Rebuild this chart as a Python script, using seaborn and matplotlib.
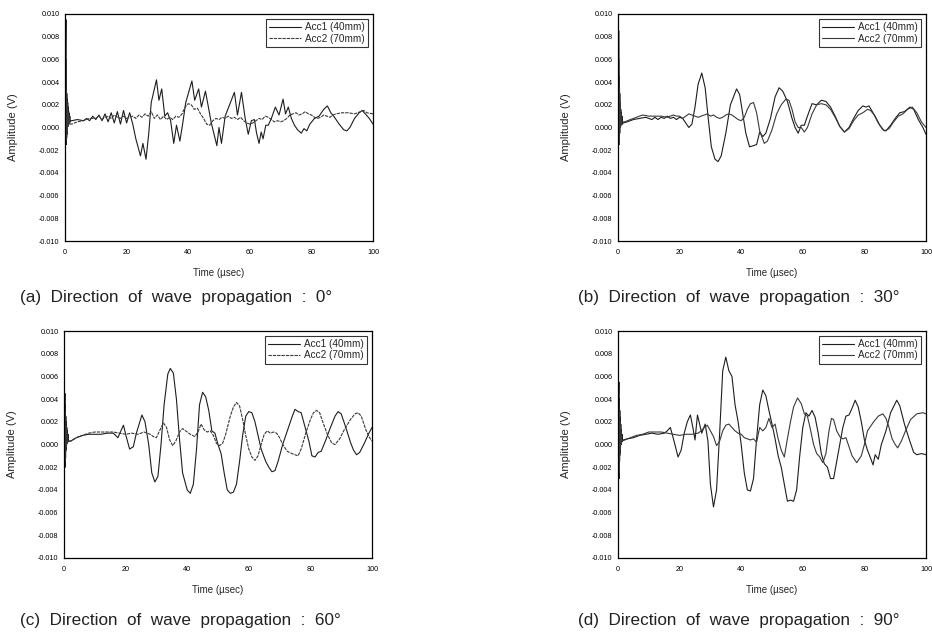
import matplotlib
matplotlib.use("Agg")
import matplotlib.pyplot as plt
import numpy as np
import pandas as pd
import seaborn as sns
from matplotlib.ticker import MultipleLocator, FormatStrFormatter
from matplotlib.lines import Line2D

# ---------------- data ----------------
labels = ["Acc1 (40mm)", "Acc2 (70mm)"]
captions = ["(a)  Direction  of  wave  propagation  :  0°",
            "(b)  Direction  of  wave  propagation  :  30°",
            "(c)  Direction  of  wave  propagation  :  60°",
            "(d)  Direction  of  wave  propagation  :  90°"]

# panel (a) 0 deg
t_a1 = [0, 0.3, 0.37, 0.44, 0.51, 0.58, 0.65, 0.72, 0.8, 0.88, 0.96, 1.04, 1.12, 1.2, 1.28, 1.36, 1.45, 1.55, 1.7, 1.85, 2.2,
        4, 6, 7, 8, 9, 10, 11, 12, 13, 14, 15, 16, 17, 18, 19, 20, 21, 22,
        23, 24.5, 25.3, 26.3, 27.2, 28, 29.7, 30.5, 31.4, 32.4, 33.3, 34.3, 35.3, 36.2, 37.3, 38.3, 39.2, 41.2, 42.1, 43.4, 44.3,
        45.6, 47.5, 49.3, 50.0, 50.8, 52.0, 53.0, 55.0, 56.0, 57.3, 58.5, 59.5, 60.5, 61.5, 62.2, 63.0, 63.7, 64.3, 65.2, 66.0,
        67.0, 68.3, 69.5, 70.8, 71.6, 72.5, 73.5, 74.5, 75.5, 76.7, 77.6, 78.5, 79.5, 81.0, 82.5, 84.0, 85.2, 86.3, 87.5, 89.0,
        90.5, 91.5, 92.5, 94.0, 95.5, 96.5, 97.5, 98.8, 100]
v_a1 = [0, 0.0095, -0.0015, 0.0060, -0.0010, 0.0030, -0.0006, 0.0025, 0.0000, 0.0022, 0.0001, 0.0018, 0.0003, 0.0014,
        0.0004, 0.0012, 0.0005, 0.0010, 0.0005, 0.0006, 0.0006,
        0.0007, 0.0006, 0.0008,
        0.0006, 0.0010, 0.0007, 0.0011, 0.0006, 0.0012, 0.0005, 0.0013, 0.0004, 0.0014, 0.0003, 0.0015, 0.0004, 0.0013, 0.0003,
        -0.0010, -0.0025, -0.0014, -0.0028, -0.0005, 0.0022, 0.0042, 0.0024, 0.0034, 0.0010, 0.0013, 0.0006, -0.0014, 0.0002,
        -0.0012, 0.0005, 0.0022, 0.0041, 0.0024, 0.0034, 0.0018, 0.0032, 0.0004, -0.0016, 0.0000, -0.0014, 0.0010, 0.0017,
        0.0031, 0.0011, 0.0031, 0.0008, -0.0006, 0.0006, 0.0007, -0.0005, -0.0014, -0.0004, -0.0010, 0.0002, 0.0002,
        0.0008, 0.0018, 0.0011, 0.0025, 0.0012, 0.0018, 0.0008, 0.0002, -0.0002, -0.0005, -0.0001, -0.0003, 0.0003, 0.0008,
        0.0010, 0.0016, 0.0019, 0.0013, 0.0009, 0.0003, -0.0002, -0.0003, 0.0000, 0.0008, 0.0013, 0.0015, 0.0012, 0.0008, 0.0003]
t_a2 = [0, 0.32, 0.4, 0.48, 0.56, 0.64, 0.72, 0.8, 0.9, 1.0, 1.1, 1.2, 1.3, 1.45, 1.7, 2.2, 4, 6, 8, 10, 11, 12, 13, 14, 15,
        16, 17, 18, 19, 20, 22, 23, 24, 25,
        26, 27, 28, 29, 30, 31, 32, 33, 34, 35, 36, 37, 38, 39, 40, 41, 42, 43, 44, 45, 46, 47, 48, 49, 50, 51, 52, 53, 54,
        55, 56, 57, 58, 59, 60, 61, 62, 63, 64, 65, 66, 67, 68, 69, 70, 71, 72, 73, 74, 75, 76, 77, 78, 79, 80, 81, 82, 83,
        84, 85, 86, 87, 88, 90, 92, 94, 96, 97, 98, 100]
v_a2 = [0, 0.0060, -0.0012, 0.0035, -0.0008, 0.0022, -0.0003, 0.0018, 0.0001, 0.0014, 0.0002, 0.0011, 0.0003, 0.0008,
        0.0003, 0.0003, 0.0005, 0.0006, 0.0008, 0.0008, 0.0010,
        0.0007, 0.0009, 0.0010, 0.0008, 0.0011, 0.0009, 0.0008, 0.0010, 0.0008, 0.0010, 0.0008, 0.0011, 0.0009, 0.0012,
        0.0010, 0.0014, 0.0008, 0.0011, 0.0007, 0.0010, 0.0007, 0.0009, 0.0007, 0.0010, 0.0009, 0.0012, 0.0018, 0.0021,
        0.0020, 0.0016, 0.0017, 0.0012, 0.0008, 0.0003, 0.0002, 0.0006, 0.0008, 0.0007, 0.0009, 0.0008, 0.0010, 0.0008,
        0.0009, 0.0007, 0.0009, 0.0006, 0.0004, 0.0003, 0.0004, 0.0006, 0.0008, 0.0007, 0.0010, 0.0009, 0.0007, 0.0005,
        0.0006, 0.0005, 0.0006, 0.0008, 0.0011, 0.0012, 0.0013, 0.0011, 0.0012, 0.0014, 0.0012, 0.0011, 0.0009, 0.0008,
        0.0009, 0.0011, 0.0010, 0.0009, 0.0011, 0.0012, 0.0013, 0.0013, 0.0012, 0.0014, 0.0015, 0.0013, 0.0012]

# panel (b) 30 deg
t_b1 = [0, 0.3, 0.37, 0.44, 0.51, 0.58, 0.65, 0.73, 0.81, 0.9, 1.0, 1.1, 1.2, 1.3, 1.45, 1.7, 3, 5, 7, 9, 10, 11, 12, 13, 14,
        15, 16, 17, 18, 19, 20, 21, 22, 23,
        24, 25, 26, 27.2, 28.3, 29.3, 30.3, 31.5, 32.5, 33.5, 35, 36.5, 38.5, 39.5, 40.5, 41.5, 42.7, 44, 45, 46, 47, 48, 49.5,
        51, 52.3, 53.5, 55, 56.5, 57.5, 58.5, 59.5, 60.5, 61.5, 63, 64.5, 66, 67.5, 69, 70.5, 72, 73.5, 75, 76.5, 78, 79.5,
        80.5, 81.5, 83, 84.5, 86, 87, 88.5, 90, 91.5, 93, 94.8, 96, 97.5, 99, 100]
v_b1 = [0, 0.0085, -0.0010, 0.0045, -0.0005, 0.0030, 0.0000, 0.0022, 0.0001, 0.0016, 0.0002, 0.0013, 0.0003, 0.0010,
        0.0003, 0.0004, 0.0005, 0.0007, 0.0008, 0.0009, 0.0008,
        0.0007, 0.0009, 0.0007, 0.0009, 0.0008, 0.0010, 0.0008, 0.0009, 0.0007, 0.0009, 0.0008, 0.0004, 0.0000, 0.0003,
        0.0018, 0.0038, 0.0048, 0.0035, 0.0008, -0.0017, -0.0028, -0.0030, -0.0025, -0.0005, 0.0020, 0.0034, 0.0029,
        0.0012, -0.0005, -0.0017, -0.0016, -0.0015, -0.0004, -0.0008, -0.0005, 0.0008, 0.0027, 0.0035, 0.0032, 0.0023,
        0.0008, 0.0000, -0.0005, 0.0002, 0.0002, 0.0010, 0.0021, 0.0020, 0.0024, 0.0023, 0.0018, 0.0010, 0.0001, -0.0004,
        0.0000, 0.0008, 0.0015, 0.0019, 0.0018, 0.0019, 0.0012, 0.0004, -0.0002, -0.0003, 0.0002, 0.0008, 0.0013, 0.0014,
        0.0018, 0.0016, 0.0007, 0.0000, -0.0006]
t_b2 = [0, 0.32, 0.4, 0.48, 0.56, 0.64, 0.72, 0.8, 0.9, 1.0, 1.12, 1.3, 2.2, 4, 6, 8, 10, 12, 14, 16, 18, 19, 20, 21, 22,
        23, 24, 25, 26, 27, 28, 29, 30,
        31, 32, 33, 34, 35, 36, 37, 38, 39, 40, 41, 42, 43, 44, 45, 46, 47.5, 48.5, 50, 51.5, 53, 54.5, 55.5, 56.5, 57.5,
        58.5, 59.5, 60.5, 61.5, 63, 64.5, 66, 67.5, 69, 70.5, 72, 73.5, 75, 76.5, 78, 79.5, 81, 82, 83.5, 85, 86.5, 88, 89.5,
        91, 92.5, 94, 95.5, 97, 98.5, 100]
v_b2 = [0, 0.0060, -0.0015, 0.0035, -0.0005, 0.0022, 0.0000, 0.0016, 0.0002, 0.0012, 0.0004, 0.0005, 0.0005, 0.0007,
        0.0009, 0.0011, 0.0010, 0.0010, 0.0010, 0.0009,
        0.0011, 0.0010, 0.0010, 0.0008, 0.0010, 0.0012, 0.0011, 0.0010, 0.0009, 0.0010, 0.0011, 0.0012, 0.0010, 0.0011,
        0.0009, 0.0008, 0.0009, 0.0011, 0.0012, 0.0011, 0.0009, 0.0007, 0.0006, 0.0009, 0.0016, 0.0021, 0.0022, 0.0013,
        -0.0003, -0.0014, -0.0012, -0.0002, 0.0012, 0.0020, 0.0025, 0.0024, 0.0016, 0.0005, 0.0000, 0.0000, -0.0004,
        0.0000, 0.0012, 0.0020, 0.0021, 0.0020, 0.0016, 0.0009, 0.0001, -0.0004, -0.0001, 0.0006, 0.0011, 0.0013, 0.0016,
        0.0015, 0.0010, 0.0002, -0.0003, -0.0001, 0.0005, 0.0010, 0.0012, 0.0016, 0.0018, 0.0013, 0.0005, 0.0000]

# panel (c) 60 deg
t_c1 = [0, 0.3, 0.37, 0.44, 0.51, 0.58, 0.65, 0.73, 0.81, 0.9, 1.0, 1.1, 1.2, 1.3, 1.45, 2.2, 4, 6, 8, 10, 12, 14, 16, 17.5,
        19.3, 20.3, 21.3, 22.5, 23.5, 25.3, 26.3,
        27.5, 28.5, 29.5, 30.5, 31.5, 32.5, 33.7, 34.5, 35.5, 36.5, 37.5, 38.5, 40, 41, 42, 43, 44, 45, 46, 47, 48, 49, 50,
        51, 52, 53, 54, 55, 56, 57, 58, 59, 60, 61, 62, 63, 64, 65.5, 66.5, 67.5, 68.5, 69.5, 71, 72.5, 74, 75, 76, 77, 78,
        79.5, 80.5, 81.5, 82.5, 83.5, 85, 86.5, 88, 89, 90, 91.5, 93, 94, 95, 96, 97.5, 99, 100]
v_c1 = [0, 0.0045, -0.0020, 0.0035, -0.0012, 0.0025, -0.0005, 0.0020, -0.0001, 0.0015, 0.0001, 0.0012, 0.0002, 0.0009,
        0.0003, 0.0003, 0.0006, 0.0008, 0.0009, 0.0009, 0.0009,
        0.0010, 0.0010, 0.0006, 0.0017, 0.0006, -0.0004, -0.0002, 0.0010, 0.0026, 0.0020, 0.0000, -0.0025, -0.0033, -0.0028,
        0.0000, 0.0035, 0.0062, 0.0067, 0.0063, 0.0040, 0.0005, -0.0025, -0.0040, -0.0043, -0.0035, -0.0005, 0.0035,
        0.0046, 0.0042, 0.0030, 0.0012, 0.0010, 0.0000, -0.0008, -0.0025, -0.0040, -0.0043, -0.0042, -0.0035, -0.0015,
        0.0008, 0.0025, 0.0029, 0.0028, 0.0020, 0.0008, -0.0004, -0.0015, -0.0020, -0.0024, -0.0023, -0.0015, 0.0000,
        0.0012, 0.0024, 0.0031, 0.0029, 0.0028, 0.0018, 0.0003, -0.0010, -0.0011, -0.0007, -0.0006, 0.0004, 0.0015,
        0.0025, 0.0029, 0.0027, 0.0015, 0.0002, -0.0005, -0.0009, -0.0007, 0.0001, 0.0010, 0.0015]
t_c2 = [0, 0.32, 0.4, 0.48, 0.56, 0.64, 0.72, 0.8, 0.9, 1.0, 1.12, 1.3, 2.2, 4, 6, 8, 10, 12, 14, 16, 18, 20, 22, 24, 26, 27,
        28, 29, 30, 31, 32.3, 33.3, 34.3,
        35.3, 36.3, 37.5, 38.5, 39.5, 41, 42.5, 43.5, 44.5, 45.5, 46.5, 47.5, 48.5, 49.5, 50.5, 51.5, 52.5, 54, 55, 56, 57,
        58, 59, 60, 61, 62, 63, 64, 65, 66, 67, 68, 69, 70, 71, 72.5, 74, 75, 76, 77, 78.5, 80, 81, 82, 83, 84, 85.5, 87, 88,
        89.5, 91, 93, 94.5, 95.5, 96.5, 98, 99, 100]
v_c2 = [0, 0.0030, -0.0015, 0.0022, -0.0006, 0.0016, -0.0002, 0.0012, 0.0001, 0.0009, 0.0002, 0.0003, 0.0003, 0.0006,
        0.0008, 0.0010, 0.0011, 0.0011, 0.0011, 0.0011,
        0.0010, 0.0009, 0.0010, 0.0009, 0.0011, 0.0010, 0.0009, 0.0007, 0.0006, 0.0012, 0.0019, 0.0015, 0.0004, -0.0001,
        0.0003, 0.0011, 0.0014, 0.0012, 0.0009, 0.0007, 0.0011, 0.0018, 0.0013, 0.0011, 0.0012, 0.0008, 0.0001, -0.0001,
        0.0001, 0.0009, 0.0025, 0.0033, 0.0037, 0.0034, 0.0022, 0.0008, -0.0004, -0.0011, -0.0014, -0.0010, 0.0000,
        0.0009, 0.0012, 0.0010, 0.0011, 0.0010, 0.0006, 0.0000, -0.0006, -0.0008, -0.0009, -0.0010, -0.0004, 0.0010,
        0.0022, 0.0028, 0.0030, 0.0028, 0.0020, 0.0009, 0.0001, 0.0000, 0.0005, 0.0013, 0.0022, 0.0027, 0.0028, 0.0025,
        0.0013, 0.0007, 0.0003]

# panel (d) 90 deg
t_d1 = [0, 0.3, 0.37, 0.44, 0.51, 0.58, 0.65, 0.73, 0.81, 0.9, 1.0, 1.1, 1.2, 1.3, 1.45, 1.7, 3, 5, 7, 9, 11, 13, 15, 16, 17,
        18, 19.5, 20.5, 21.5, 22.5, 23.5, 24.3,
        25, 25.8, 26.5, 27.2, 28.3, 29.2, 30, 31, 32, 33, 34, 35, 36, 37, 38, 39, 40, 41, 42, 43, 44, 45, 46, 47, 48, 49, 50,
        51, 52, 53, 54, 55, 56, 57, 58, 59, 60, 61, 62, 63, 64, 65, 66, 67, 68, 69, 70, 71, 72, 73, 74, 75, 76, 77, 78, 79,
        80, 81, 82, 82.8, 83.5, 84.5, 85.5, 87, 88.5, 90.5, 91.5, 93, 94.5, 96, 97, 98.5, 100]
v_d1 = [0, 0.0055, -0.0030, 0.0040, -0.0015, 0.0030, -0.0008, 0.0024, -0.0003, 0.0018, 0.0000, 0.0013, 0.0002, 0.0009,
        0.0003, 0.0004, 0.0005, 0.0006, 0.0008, 0.0009,
        0.0010, 0.0009, 0.0010, 0.0012, 0.0015, 0.0005, -0.0011, -0.0005, 0.0010, 0.0020, 0.0026, 0.0015, 0.0004, 0.0026,
        0.0018, 0.0010, 0.0018, 0.0003, -0.0035, -0.0055, -0.0040, 0.0010, 0.0065, 0.0077, 0.0065, 0.0060, 0.0035, 0.0020,
        0.0000, -0.0025, -0.0040, -0.0041, -0.0030, 0.0005, 0.0035, 0.0048, 0.0043, 0.0030, 0.0018, 0.0005, -0.0010,
        -0.0020, -0.0035, -0.0050, -0.0049, -0.0050, -0.0040, -0.0010, 0.0015, 0.0028, 0.0025, 0.0030, 0.0024, 0.0010,
        -0.0008, -0.0017, -0.0020, -0.0030, -0.0030, -0.0015, 0.0000, 0.0015, 0.0025, 0.0026, 0.0032, 0.0039, 0.0033,
        0.0020, 0.0004, -0.0005, -0.0012, -0.0018, -0.0009, -0.0013, 0.0000, 0.0012, 0.0028, 0.0039, 0.0034, 0.0018,
        0.0005, -0.0007, -0.0009, -0.0008, -0.0009]
t_d2 = [0, 0.32, 0.4, 0.48, 0.56, 0.64, 0.72, 0.8, 0.9, 1.0, 1.12, 1.3, 2.2, 4, 6, 8, 10, 12, 14, 16, 18, 20, 22, 24, 26,
        27, 28, 29, 30, 31, 32, 33, 34, 35,
        36, 37, 38, 39, 40, 41, 42, 43, 44, 45, 46, 47, 48, 49, 50, 51, 52, 53, 54, 55, 56, 57, 58.3, 59.5, 60.5, 61.5, 62.5,
        63.5, 64.5, 65.5, 66.5, 67.5, 68.5, 69.3, 70, 71, 72, 73, 74, 75, 76, 77.5, 79, 80, 81, 82, 83, 84.5, 86, 87, 88, 89,
        90, 90.8, 92, 93.5, 95, 97, 99, 100]
v_d2 = [0, 0.0038, -0.0025, 0.0028, -0.0010, 0.0020, -0.0004, 0.0015, 0.0000, 0.0011, 0.0002, 0.0003, 0.0004, 0.0006,
        0.0008, 0.0009, 0.0011, 0.0011, 0.0011, 0.0010,
        0.0009, 0.0008, 0.0009, 0.0009, 0.0010, 0.0012, 0.0015, 0.0017, 0.0012, 0.0007, -0.0001, 0.0003, 0.0012, 0.0017,
        0.0018, 0.0015, 0.0012, 0.0010, 0.0009, 0.0006, 0.0005, 0.0004, 0.0005, 0.0002, 0.0015, 0.0012, 0.0015, 0.0023,
        0.0015, 0.0018, 0.0005, -0.0005, -0.0011, 0.0005, 0.0020, 0.0033, 0.0041, 0.0036, 0.0027, 0.0025, 0.0013, 0.0000,
        -0.0008, -0.0011, -0.0016, -0.0008, 0.0012, 0.0023, 0.0022, 0.0012, 0.0007, 0.0005, 0.0006, -0.0002, -0.0010,
        -0.0016, -0.0010, 0.0000, 0.0012, 0.0016, 0.0020, 0.0025, 0.0027, 0.0023, 0.0015, 0.0005, 0.0000, -0.0003,
        0.0003, 0.0013, 0.0022, 0.0027, 0.0028, 0.0027]

panels = [(t_a1, v_a1, t_a2, v_a2), (t_b1, v_b1, t_b2, v_b2),
          (t_c1, v_c1, t_c2, v_c2), (t_d1, v_d1, t_d2, v_d2)]

# ---------------- layout ----------------
sns.set_style("white")
plt.rcParams["font.family"] = ["Liberation Sans", "DejaVu Sans"]

W, H = 932, 633
fig = plt.figure(figsize=(W / 100, H / 100), dpi=100)

# axes boxes in pixels: (left, top, right, bottom)
boxes = [(65, 14, 373, 241), (618, 14, 926, 241), (64, 331, 372, 558), (618, 331, 926, 558)]
cap_pos = [(20, 297), (578, 297), (20, 620), (578, 620)]
acc2_dash = [(0, (3.0, 0.9)), "-", (0, (3.0, 0.9)), "-"]

for i, (box, pan) in enumerate(zip(boxes, panels)):
    l, t, r, b = box
    ax = fig.add_axes([l / W, 1 - b / H, (r - l) / W, (b - t) / H])
    t1, v1, t2, v2 = pan
    df1 = pd.DataFrame({"t": t1, "v": v1})
    df2 = pd.DataFrame({"t": t2, "v": v2})
    sns.lineplot(data=df1, x="t", y="v", ax=ax, color="#1e1e1e", lw=0.8,
                 estimator=None, sort=False)
    sns.lineplot(data=df2, x="t", y="v", ax=ax, color="#3a3a3a", lw=0.8,
                 linestyle=acc2_dash[i], estimator=None, sort=False)
    ax.set_xlim(0, 100)
    ax.set_ylim(-0.010, 0.010)
    ax.xaxis.set_major_locator(MultipleLocator(20))
    ax.xaxis.set_minor_locator(MultipleLocator(10))
    ax.yaxis.set_major_locator(MultipleLocator(0.002))
    ax.yaxis.set_minor_locator(MultipleLocator(0.001))
    ax.xaxis.set_major_formatter(FormatStrFormatter("%d"))
    ax.yaxis.set_major_formatter(FormatStrFormatter("%.3f"))
    ax.tick_params(which="major", direction="out", length=2.5, width=0.6,
                   labelsize=5.2, pad=1.5, colors="black")
    ax.tick_params(axis="x", which="major", pad=3)
    ax.tick_params(which="minor", direction="out", length=1.4, width=0.5)
    for sp in ax.spines.values():
        sp.set_visible(True)
        sp.set_linewidth(0.9)
        sp.set_color("black")
    ax.set_xlabel("Time (µsec)", fontsize=7)
    ax.set_ylabel("Amplitude (V)", fontsize=8)
    ax.xaxis.set_label_coords(0.5, -0.12)
    ax.yaxis.set_label_coords(-0.153, 0.5)

    handles = [Line2D([], [], color="#1e1e1e", lw=0.8),
               Line2D([], [], color="#3a3a3a", lw=0.8, linestyle=acc2_dash[i])]
    leg = ax.legend(handles, labels, loc="upper right", fontsize=7.2,
                    frameon=True, fancybox=False, edgecolor="black",
                    borderpad=0.3, handlelength=3.2, handletextpad=0.4,
                    labelspacing=0.15, borderaxespad=0.5)
    leg.get_frame().set_linewidth(0.8)

    cx, cy = cap_pos[i]
    fig.text(cx / W, 1 - cy / H, captions[i], fontsize=12.3,
             ha="left", va="center", color="#222222")

fig.savefig("out.png", dpi=100)
